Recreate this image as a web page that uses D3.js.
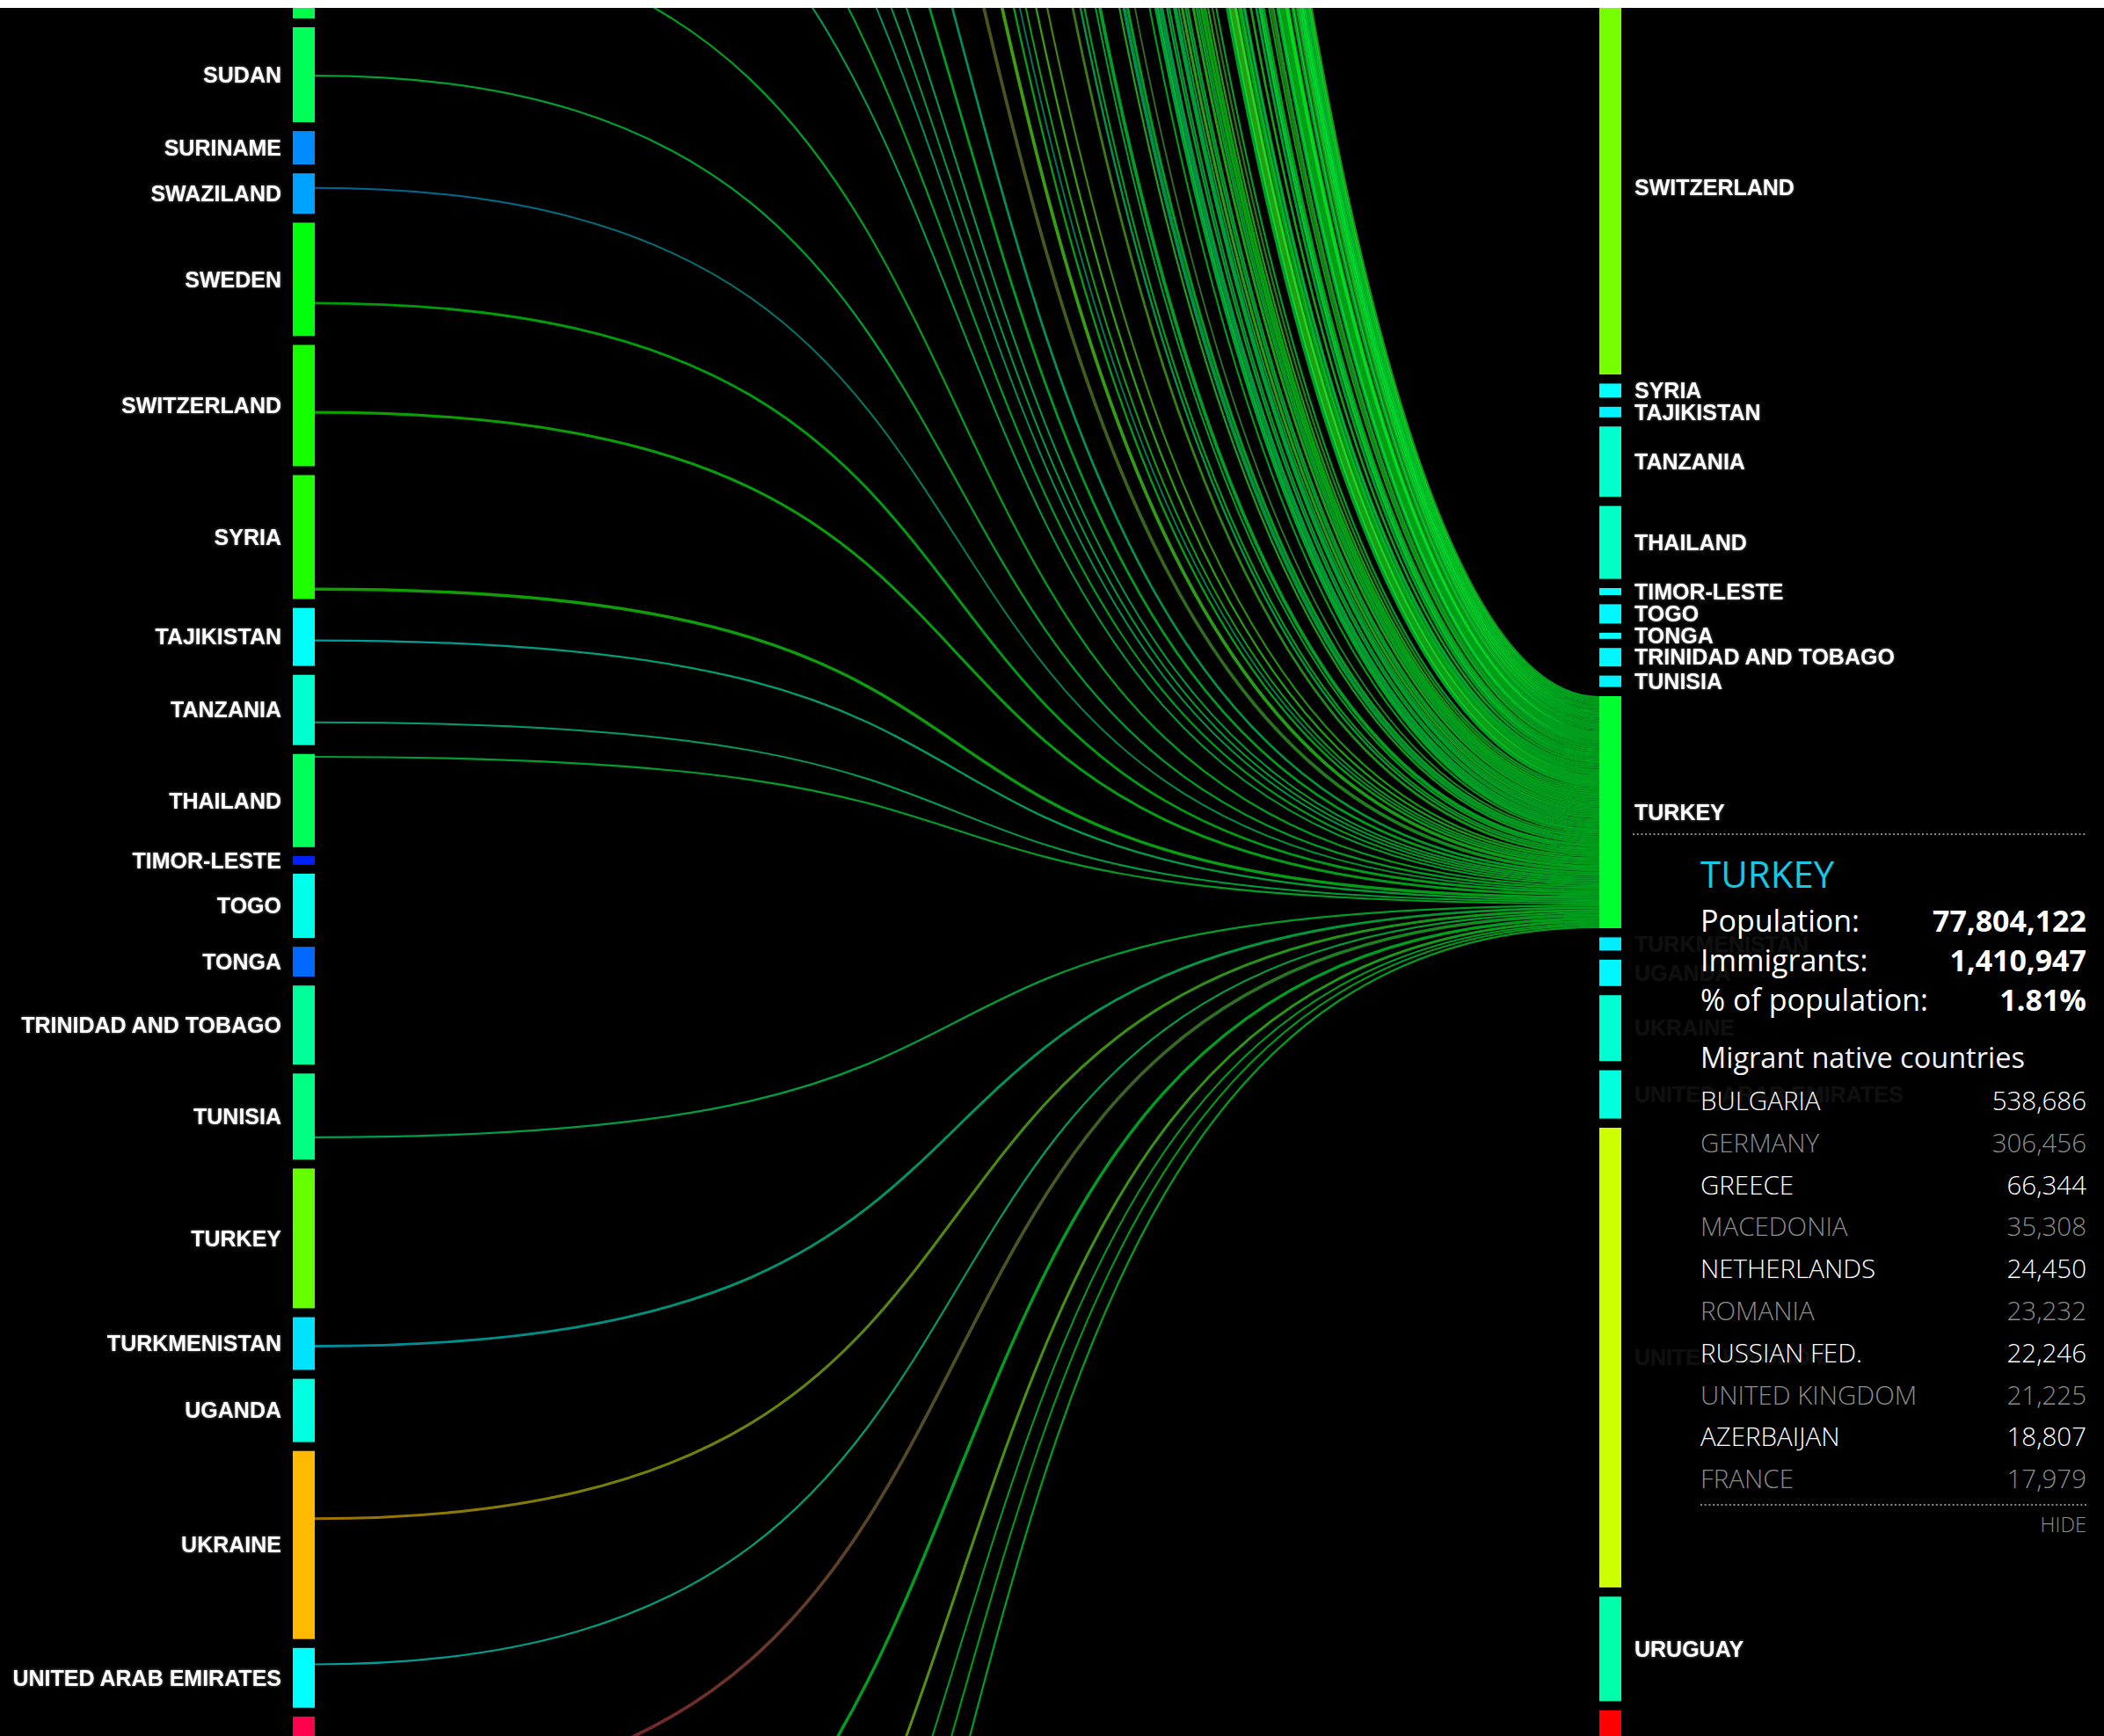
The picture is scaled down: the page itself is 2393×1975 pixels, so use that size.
<!DOCTYPE html>
<html><head><meta charset="utf-8">
<script src="https://cdn.jsdelivr.net/npm/d3@7"></script>
<style>
html,body{margin:0;padding:0;background:#000;overflow:hidden;}
svg{display:block;}
.lbl{font-family:Arial,"Liberation Sans",sans-serif;font-weight:bold;font-size:25px;fill:#fff;}
.pn{font-family:"Open Sans",sans-serif;}
</style></head><body>
<svg id="chart" width="2393" height="1975"></svg>
<script>
// ================= DATA =================
// Origin countries (left axis, alphabetical). [name, bar size, migrants living in Turkey, emigration colour index, share of bar before the Turkey flow]
const originsAbove = [
 ["AFGHANISTAN",150,14200,78],["ALBANIA",110,5400,45],["ALGERIA",130,1200,40],["ANDORRA",20,0,20],
 ["ANGOLA",70,100,30],["ANTIGUA AND BARBUDA",30,0,15],["ARGENTINA",100,600,35],["ARMENIA",100,5900,42],
 ["AUSTRALIA",90,2800,30],["AUSTRIA",100,16900,38],["AZERBAIJAN",120,18807,46],["BAHAMAS",25,0,12],
 ["BAHRAIN",30,300,15],["BANGLADESH",190,900,85],["BARBADOS",40,0,18],["BELARUS",130,1300,55],
 ["BELGIUM",90,11300,33],["BELIZE",30,0,15],["BENIN",60,0,25],["BHUTAN",20,0,10],["BOLIVIA",90,0,35],
 ["BOSNIA AND HERZEGOVINA",130,7100,48],["BOTSWANA",30,0,12],["BRAZIL",120,700,45],["BRUNEI",20,0,10],
 ["BULGARIA",120,538686,47],["BURKINA FASO",110,0,40],["BURUNDI",50,0,25],["CAMBODIA",90,0,38],
 ["CAMEROON",70,300,28],["CANADA",100,2100,38],["CAPE VERDE",50,0,22],["CENTRAL AFRICAN REP.",50,0,22],
 ["CHAD",60,0,25],["CHILE",80,200,32],["CHINA",200,7300,90],["COLOMBIA",130,300,50],["COMOROS",30,0,12],
 ["CONGO",50,0,22],["COSTA RICA",50,0,22],["CÔTE D'IVOIRE",90,0,35],["CROATIA",100,900,42],["CUBA",110,300,45],
 ["CYPRUS",60,11200,28],["CZECH REP.",80,700,33],["DEM. REP. OF THE CONGO",100,0,40],["DENMARK",60,6200,28],
 ["DJIBOUTI",20,0,10],["DOMINICAN REP.",100,0,40],["ECUADOR",100,0,40],["EGYPT",160,4100,62],
 ["EL SALVADOR",120,0,48],["EQUATORIAL GUINEA",30,0,12],["ERITREA",90,0,38],["ESTONIA",50,200,22],
 ["ETHIOPIA",80,400,32],["FIJI",40,0,18],["FINLAND",60,600,26],["FRANCE",120,17979,48],["GABON",20,0,10],
 ["GAMBIA",30,0,14],["GEORGIA",100,13700,42],["GERMANY",170,306456,66],["GHANA",80,0,33],["GREECE",90,66344,36],
 ["GRENADA",20,0,10],["GUATEMALA",90,0,38],["GUINEA",70,0,28],["GUINEA-BISSAU",40,0,16],["GUYANA",70,0,28],
 ["HAITI",100,0,40],["HONDURAS",80,0,32],["HUNGARY",80,800,33],["ICELAND",20,0,8],["INDIA",230,1700,97],
 ["INDONESIA",160,900,65],["IRAN",120,16800,48],["IRAQ",130,17500,50],["IRELAND",90,500,36],["ISRAEL",70,2300,30],
 ["ITALY",160,8800,63],["JAMAICA",90,0,36],["JAPAN",80,1500,33],["JORDAN",70,2000,30],["KAZAKHSTAN",170,9700,70],
 ["KENYA",70,300,28],["KIRIBATI",10,0,5],["KUWAIT",40,800,18],["KYRGYZSTAN",80,8300,32],["LAO PDR",90,0,36],
 ["LATVIA",60,200,26],["LEBANON",80,2000,33],["LESOTHO",40,0,16],["LIBERIA",40,0,16],["LIBYA",40,5100,18],
 ["LITHUANIA",70,300,30],["LUXEMBOURG",20,200,8],["MACEDONIA",80,35308,33],["MADAGASCAR",40,0,16],
 ["MALAWI",50,0,22],["MALAYSIA",110,500,45],["MALDIVES",10,0,5],["MALI",90,0,36],["MALTA",40,0,16],
 ["MAURITANIA",40,0,16],["MAURITIUS",50,0,20],["MEXICO",250,100,99],["MICRONESIA",20,0,8],["MOLDOVA",90,9600,38],
 ["MONGOLIA",30,1100,14],["MONTENEGRO",30,500,14],["MOROCCO",150,1300,60],["MOZAMBIQUE",90,0,36],
 ["MYANMAR",130,0,52],["NAMIBIA",20,0,8],["NEPAL",90,0,36],["NETHERLANDS",90,24450,37],["NEW ZEALAND",80,300,33],
 ["NICARAGUA",80,0,32],["NIGER",50,0,22],["NIGERIA",100,800,40],["NORWAY",40,2300,18],["OMAN",20,0,8],
 ["PAKISTAN",190,6400,82],["PANAMA",40,0,16],["PAPUA NEW GUINEA",10,0,5],["PARAGUAY",80,0,32],["PERU",110,0,45],
 ["PHILIPPINES",180,900,78],["POLAND",160,1500,65],["PORTUGAL",130,300,52],["QATAR",20,200,8],
 ["REP. OF KOREA",120,2000,48],["ROMANIA",160,23232,65],["RUSSIAN FED.",240,22246,96],["RWANDA",50,0,20],
 ["SAINT LUCIA",20,0,8],["SAMOA",30,0,12],["SAO TOME AND PRINCIPE",10,0,5],["SAUDI ARABIA",40,4300,18],
 ["SENEGAL",80,0,32],["SERBIA",100,4800,40],["SIERRA LEONE",40,0,16],["SINGAPORE",60,200,26],["SLOVAKIA",70,200,30],
 ["SLOVENIA",40,200,18],["SOLOMON ISLANDS",10,0,5],["SOMALIA",100,800,40],["SOUTH AFRICA",70,500,30],
 ["SOUTH SUDAN",60,0,25],["SPAIN",104,1300,40,0.9],["SRI LANKA",80,0,38]
];
const originsVisible = [
 ["SUDAN",108,1300,37,0.51],["SURINAME",38,0,11],["SWAZILAND",46,100,13,0.36],["SWEDEN",129,6900,44,0.71],
 ["SWITZERLAND",138,9800,47,0.556],["SYRIA",141,15300,48,0.92],["TAJIKISTAN",66,1500,22,0.56],
 ["TANZANIA",80,200,26,0.675],["THAILAND",106,800,37,0.03],["TIMOR-LESTE",10,0,1],["TOGO",73,0,23.5],
 ["TONGA",34,0,7.5],["TRINIDAD AND TOBAGO",90,0,31],["TUNISIA",98,1700,33,0.74],["TURKEY",159,0,54.5],
 ["TURKMENISTAN",60,7600,19,0.55],["UGANDA",72,0,24.3],["UKRAINE",214,10400,75,0.36],
 ["UNITED ARAB EMIRATES",68,1200,21.6,0.275]
];
const originsBelow = [
 ["UNITED KINGDOM",250,21225,99,0.37],["UNITED STATES",200,16200,40],["URUGUAY",60,0,30],["UZBEKISTAN",150,8900,72],
 ["VANUATU",10,0,5],["VENEZUELA",90,300,38],["VIET NAM",160,400,45],["YEMEN",90,1300,40,0.7],["ZAMBIA",40,0,20],["ZIMBABWE",100,0,40]
];
// Destination countries (right axis). [name, bar size, immigration colour index]
const destinations = [
 ["SWITZERLAND",425,56],["SYRIA",16,21.6],["TAJIKISTAN",12,20.4],["TANZANIA",80,26.3],["THAILAND",83,27],
 ["TIMOR-LESTE",8,21.6],["TOGO",22,20.8],["TONGA",7,21.6],["TRINIDAD AND TOBAGO",21,20.8],["TUNISIA",13,20.4],
 ["TURKEY",264,40.8],["TURKMENISTAN",15,20],["UGANDA",30,20.8],["UKRAINE",75,25.9],
 ["UNITED ARAB EMIRATES",55,24.7],["UNITED KINGDOM",523,63.9],["URUGUAY",119,29.4],["USA",400,92.2]
];
const selected = "TURKEY";
const selPopulation = 77804122;
const selImmigrants = 1410947;
const panelLabels = ["Population:","Immigrants:","% of population:"];

// ================= LAYOUT =================
const W = 2393, H = 1975;
const Lx = 333, Rx = 1819, barW = 25;
const leftGap = 10.1, rightGap = 10.4;
const leftAnchor = ["SUDAN", 31], rightAnchor = ["SWITZERLAND", 1];
const K = 0.65;          // bezier control spread
const minLinkW = 1.8;    // minimum stroke width of a flow

const sizeScale = d3.scaleLinear().domain([0, 100]).range([0, 100]);
const hue = d3.scaleLinear().domain([0, 100]).range([235, -20]);
const colorOf = v => { let h = hue(v); if (h < 0) h += 360; return d3.hsl(h, 1, 0.5).formatHex(); };

const toObj = a => ({name:a[0], size:a[1], flow:a[2], idx:a[3], pos:(a[4] === undefined ? 0.5 : a[4])});
const origins = [...originsAbove, ...originsVisible, ...originsBelow].map(toObj);
const dests = destinations.map(a => ({name:a[0], size:a[1], idx:a[2]}));

function stack(list, gap, anchor){
  let y = 0;
  list.forEach(d => { d.y0 = y; d.y1 = y + sizeScale(d.size); y = d.y1 + gap; });
  const a = list.find(d => d.name === anchor[0]);
  const s = anchor[1] - a.y0;
  list.forEach(d => { d.y0 += s; d.y1 += s; });
}
stack(origins, leftGap, leftAnchor);
stack(dests, rightGap, rightAnchor);

const svg = d3.select("#chart");
const defs = svg.append("defs");
const f = defs.append("filter").attr("id","glow").attr("x","-10%").attr("y","-40%").attr("width","120%").attr("height","180%");
f.append("feGaussianBlur").attr("in","SourceAlpha").attr("stdDeviation",1.6).attr("result","b");
f.append("feFlood").attr("flood-color","#9a9a9a").attr("flood-opacity",0.85);
f.append("feComposite").attr("in2","b").attr("operator","in").attr("result","s");
const fm = f.append("feMerge"); fm.append("feMergeNode").attr("in","s"); fm.append("feMergeNode").attr("in","SourceGraphic");

svg.append("rect").attr("width",W).attr("height",H).attr("fill","#000");

// ---- links ----
const target = dests.find(d => d.name === selected);
const flows = origins.filter(d => d.flow > 0);
const sq = d3.scaleSqrt().domain([0, d3.max(flows, d => d.flow)]).range([0, 1]);
const rawW = flows.map(d => sq(d.flow));
const extra = (target.y1 - target.y0 - minLinkW * flows.length) / d3.sum(rawW);
let cy = target.y0;
flows.forEach((d, i) => {
  d.w = minLinkW + extra * rawW[i];
  d.ty = cy + d.w / 2; cy += d.w;
  d.sy = d.y0 + d.pos * (d.y1 - d.y0);
  d.gid = "lg" + i;
});
const tColor = colorOf(target.idx);
flows.forEach(d => {
  const g = defs.append("linearGradient").attr("id", d.gid).attr("gradientUnits","userSpaceOnUse")
    .attr("x1", Lx + barW).attr("x2", Rx).attr("y1", 0).attr("y2", 0);
  g.append("stop").attr("offset","0%").attr("stop-color", colorOf(d.idx));
  g.append("stop").attr("offset","100%").attr("stop-color", tColor);
});
function linkPath(x0, y0, x1, y1){
  const p = d3.path(), dx = x1 - x0;
  p.moveTo(x0, y0);
  p.bezierCurveTo(x0 + K*dx, y0, x1 - K*dx, y1, x1, y1);
  return p.toString();
}
svg.append("g").selectAll("path").data(flows).join("path")
  .attr("d", d => linkPath(Lx + barW, d.sy, Rx, d.ty))
  .attr("fill","none").attr("stroke", d => `url(#${d.gid})`)
  .attr("stroke-width", d => d.w).attr("stroke-opacity", 0.62);

// ---- bars ----
const vis = d => d.y1 > -50 && d.y0 < H + 50;
const labelVis = d => (d.y0 + d.y1) / 2 > 0 && (d.y0 + d.y1) / 2 < H;
svg.append("g").selectAll("rect").data(origins.filter(vis)).join("rect")
  .attr("x", Lx).attr("y", d => d.y0).attr("width", barW).attr("height", d => d.y1 - d.y0)
  .attr("fill", d => colorOf(d.idx));
svg.append("g").selectAll("rect").data(dests.filter(vis)).join("rect")
  .attr("x", Rx).attr("y", d => d.y0).attr("width", barW).attr("height", d => d.y1 - d.y0)
  .attr("fill", d => colorOf(d.idx));

svg.append("g").attr("filter","url(#glow)").selectAll("text").data(origins.filter(labelVis)).join("text")
  .attr("class","lbl").attr("x", Lx - 13).attr("y", d => (d.y0 + d.y1) / 2).attr("dy","0.35em")
  .attr("text-anchor","end").text(d => d.name);
svg.append("g").attr("filter","url(#glow)").selectAll("text").data(dests.filter(labelVis)).join("text")
  .attr("class","lbl").attr("x", Rx + barW + 15).attr("y", d => (d.y0 + d.y1) / 2).attr("dy","0.35em")
  .text(d => d.name);

// ---- info panel ----
const px0 = 1934, px1 = 2373;
const panel = svg.append("g");
panel.append("rect").attr("x", 1849).attr("y", 951).attr("width", W - 1849).attr("height", 812)
  .attr("fill","#000").attr("fill-opacity", 0.94);
panel.append("line").attr("x1", 1857).attr("x2", px1).attr("y1", 949).attr("y2", 949)
  .attr("stroke","#8a8a8a").attr("stroke-width",2).attr("stroke-dasharray","2,2.7");
panel.append("text").attr("class","pn").attr("x", px0).attr("y", 1010)
  .attr("font-size", 42).attr("fill","#14c8e6").text(selected);
const fmt = d3.format(",");
const vals = [fmt(selPopulation), fmt(selImmigrants), d3.format(".2%")(selImmigrants / selPopulation)];
const statY = [1060, 1105, 1150];
panelLabels.forEach((t, i) => {
  panel.append("text").attr("class","pn").attr("x", px0).attr("y", statY[i]).attr("font-size", 34).attr("fill","#fff").text(t);
  panel.append("text").attr("class","pn").attr("x", px1).attr("y", statY[i]).attr("font-size", 34).attr("font-weight", 700)
    .attr("text-anchor","end").attr("fill","#fff").text(vals[i]);
});
panel.append("text").attr("class","pn").attr("x", px0).attr("y", 1215).attr("font-size", 32.5).attr("fill","#f2f2f2").text("Migrant native countries");
const top10 = flows.slice().sort((a,b) => b.flow - a.flow).slice(0, 10);
const rowY = d3.scaleLinear().domain([0, 1]).range([1263, 1263 + 47.8]);
top10.forEach((d, i) => {
  const c = i % 2 ? "#8c8c8c" : "#ffffff";
  panel.append("text").attr("class","pn").attr("x", px0).attr("y", rowY(i)).attr("font-size", 29.5).attr("font-weight",300).attr("fill", c).text(d.name);
  panel.append("text").attr("class","pn").attr("x", px1).attr("y", rowY(i)).attr("font-size", 29.5).attr("font-weight",300)
    .attr("text-anchor","end").attr("fill", c).text(fmt(d.flow));
});
panel.append("line").attr("x1", px0).attr("x2", px1).attr("y1", 1712).attr("y2", 1712)
  .attr("stroke","#8a8a8a").attr("stroke-width",2).attr("stroke-dasharray","2,2.7");
panel.append("text").attr("class","pn").attr("x", px1).attr("y", 1743).attr("font-size", 23.5).attr("font-weight",300)
  .attr("text-anchor","end").attr("fill","#8c8c8c").text("HIDE");

// white strip above the chart
svg.append("rect").attr("x",0).attr("y",0).attr("width",W).attr("height",9).attr("fill","#fff");
</script>
</body></html>
